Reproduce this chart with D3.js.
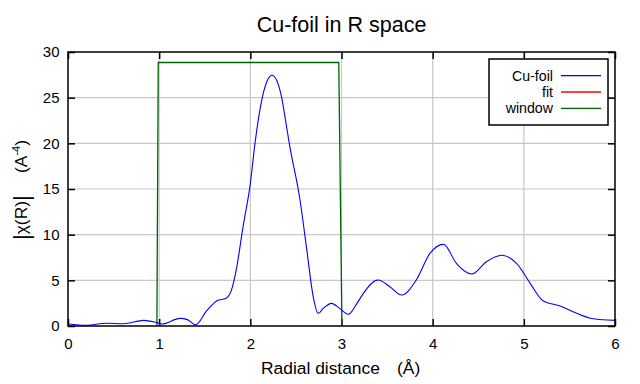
<!DOCTYPE html>
<html><head><meta charset="utf-8">
<script src="https://cdn.jsdelivr.net/npm/d3@7"></script>
<style>
html,body{margin:0;padding:0;background:#fff;}
text{font-family:"Liberation Sans",Arial,sans-serif;}
</style></head>
<body><svg id="c" width="640" height="384"></svg>
<script>
const title = "Cu-foil in R space";
const xLabel = "Radial distance";
const xUnit = "(Å)";
const xTicks = [0,1,2,3,4,5,6];
const yTicks = [0,5,10,15,20,25,30];
const seriesNames = ["Cu-foil","fit","window"];
const seriesColors = ["#0000ff","#ff0000","#006400"];
const cuR = [0,0.2,0.42,0.61,0.83,0.95,1.03,1.23,1.31,1.40,1.52,1.64,1.73,1.79,1.85,1.92,2.0,2.051,2.131,2.19,2.238,2.29,2.344,2.385,2.427,2.545,2.62,2.69,2.745,2.80,2.89,2.98,3.075,3.17,3.24,3.40,3.53,3.66,3.82,3.97,4.12,4.26,4.43,4.59,4.76,4.92,5.07,5.21,5.40,5.58,5.76,6.0];
const cuChi = [0.22,0.08,0.3,0.25,0.62,0.44,0.22,0.84,0.7,0.12,1.65,2.8,3.02,3.85,6.4,10.86,15.6,20,25,26.95,27.46,26.88,25,22.6,20,13.8,8.3,3.2,1.39,1.93,2.48,1.93,1.28,2.48,3.58,5.03,4.3,3.39,5.03,7.95,8.94,6.86,5.69,7.04,7.74,6.86,4.67,2.77,2.19,1.39,0.8,0.62];
const winR = [0.975,0.99,2.97,3.005];
const winVal = [0,28.85,28.85,0];

const svg = d3.select("#c");
const L=68,R=615,T=52,B=326;
const x = d3.scaleLinear().domain([0,6]).range([L,R]);
const y = d3.scaleLinear().domain([0,30]).range([B,T]);

// grid
svg.append("g").selectAll("line").data(xTicks.slice(1,-1)).join("line")
  .attr("x1",d=>x(d)).attr("x2",d=>x(d)).attr("y1",T).attr("y2",B)
  .attr("stroke","#c8c8c8").attr("stroke-width",1.2);
svg.append("g").selectAll("line").data(yTicks.slice(1,-1)).join("line")
  .attr("y1",d=>y(d)).attr("y2",d=>y(d)).attr("x1",L).attr("x2",R)
  .attr("stroke","#c8c8c8").attr("stroke-width",1.2);

// axes (ticks inward)
const tl=7;
svg.append("g").attr("transform",`translate(0,${B})`)
  .call(d3.axisBottom(x).tickValues(xTicks).tickSize(-tl).tickPadding(12).tickFormat(d3.format("d")));
svg.append("g").attr("transform",`translate(0,${T})`)
  .call(d3.axisTop(x).tickValues(xTicks).tickSize(-tl).tickFormat(""));
svg.append("g").attr("transform",`translate(${L},0)`)
  .call(d3.axisLeft(y).tickValues(yTicks).tickSize(-tl).tickPadding(8.5).tickFormat(d3.format("d")));
svg.append("g").attr("transform",`translate(${R},0)`)
  .call(d3.axisRight(y).tickValues(yTicks).tickSize(-tl).tickFormat(""));
svg.selectAll(".domain").remove();
svg.selectAll(".tick line").attr("stroke","#000").attr("stroke-width",1.5);
svg.selectAll(".tick text").attr("font-size",15).attr("fill","#000")
  .attr("font-family","'Liberation Sans',Arial,sans-serif");

// window
const line = d3.line().x(d=>x(d[0])).y(d=>y(d[1]));
svg.append("path").datum(winR.map((r,i)=>[r,winVal[i]]))
  .attr("d",line).attr("fill","none").attr("stroke",seriesColors[2]).attr("stroke-width",1.3);
// data
const cline = d3.line().x(d=>x(d[0])).y(d=>y(d[1])).curve(d3.curveMonotoneX);
svg.append("path").datum(cuR.map((r,i)=>[r,cuChi[i]]))
  .attr("d",cline).attr("fill","none").attr("stroke",seriesColors[0]).attr("stroke-width",1.1);

// frame
svg.append("rect").attr("x",L).attr("y",T).attr("width",R-L).attr("height",B-T)
  .attr("fill","none").attr("stroke","#000").attr("stroke-width",1.5);

// title
svg.append("text").attr("x",(L+R)/2).attr("y",31.5).attr("text-anchor","middle")
  .attr("font-size",21.5).text(title);
// x label
svg.append("text").attr("x",261).attr("y",374).attr("font-size",17.4).text(xLabel);
svg.append("text").attr("x",397).attr("y",374).attr("font-size",17.4).text(xUnit);
// y label
const yl = svg.append("g").attr("transform","translate(27,0) rotate(-90)");
const t1 = yl.append("text").attr("x",-240).attr("y",0).attr("font-size",17.4);
t1.append("tspan").attr("font-size",22).attr("dy",1.5).text("|");
t1.append("tspan").attr("dy",-1.5).text("χ(R)");
t1.append("tspan").attr("font-size",22).attr("dy",1.5).text("|");
const t2 = yl.append("text").attr("x",-173).attr("y",0).attr("font-size",17.4);
t2.append("tspan").text("(A");
t2.append("tspan").attr("font-size",11).attr("dy",-7).text("-4");
t2.append("tspan").attr("dy",7).text(")");

// legend
svg.append("rect").attr("x",489).attr("y",59).attr("width",119).attr("height",66)
  .attr("fill","#fff").attr("stroke","#000").attr("stroke-width",1.5);
const lg = svg.append("g").selectAll("g").data(seriesNames).join("g")
  .attr("transform",(d,i)=>`translate(0,${75.7+i*16.3})`);
lg.append("text").attr("x",553).attr("y",5).attr("text-anchor","end").attr("font-size",14.2).text(d=>d);
lg.append("line").attr("x1",561).attr("x2",601).attr("stroke",(d,i)=>seriesColors[i]).attr("stroke-width",1.3);
</script></body></html>
